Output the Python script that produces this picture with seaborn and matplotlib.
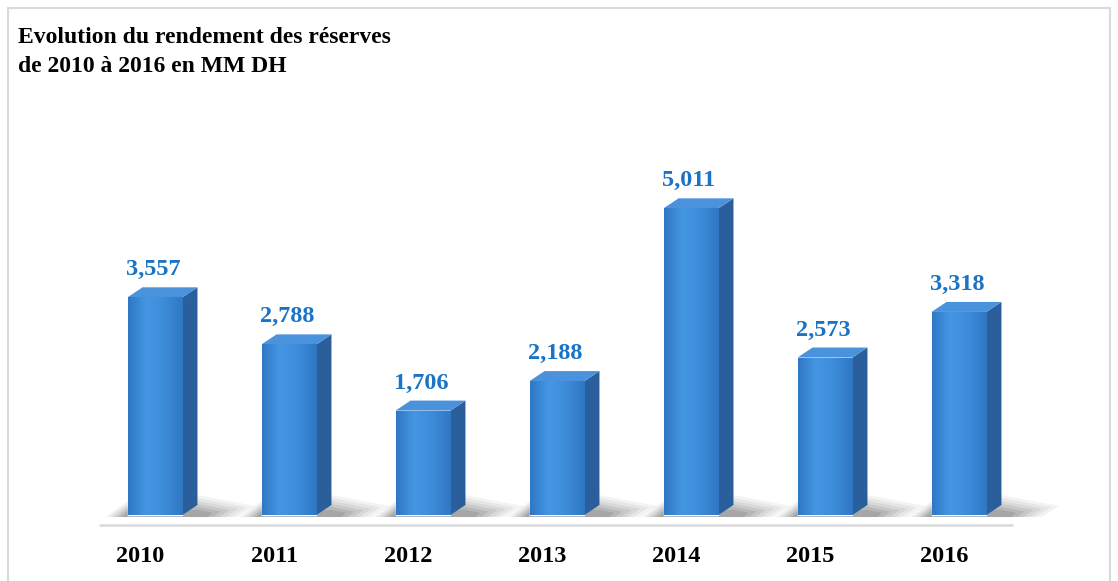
import numpy as np
import pandas as pd
import matplotlib
matplotlib.use("Agg")
import matplotlib.pyplot as plt
import seaborn as sns
from matplotlib.patches import Polygon, Rectangle
from matplotlib.colors import LinearSegmentedColormap

# ---- data ----
years = ["2010", "2011", "2012", "2013", "2014", "2015", "2016"]
values = [3557, 2788, 1706, 2188, 5011, 2573, 3318]
value_labels = ["3,557", "2,788", "1,706", "2,188", "5,011", "2,573", "3,318"]
title = "Evolution du rendement des réserves\nde 2010 à 2016 en MM DH"

sns.set_theme(style="white")
plt.rcParams['font.family'] = ['Liberation Serif', 'DejaVu Serif']

W, H = 1118, 581
fig = plt.figure(figsize=(W / 100, H / 100), dpi=100)
ax = fig.add_axes([0, 0, 1, 1])

df = pd.DataFrame({"year": years, "value": values})
sns.barplot(data=df, x="year", y="value", color="#3b88d6", width=0.41,
            saturation=1, ax=ax, zorder=3)

# pixel <-> data scale
PX_X = 134.0          # px per category
PX_Y = 0.0612         # px per value unit
X0_PX, Y0_PX = 155, 515
ax.set_xlim(-X0_PX / PX_X, (W - X0_PX) / PX_X)
ax.set_ylim(-(H - Y0_PX) / PX_Y, Y0_PX / PX_Y)
ax.axis("off")

dx = 15 / PX_X
dy = 10 / PX_Y
px = 1 / PX_X
py = 1 / PX_Y

grad = LinearSegmentedColormap.from_list("g", ["#2f78c6", "#4597e3", "#3d8cd9", "#2f77c3"])

for p, lab in zip(list(ax.patches), value_labels):
    x0 = p.get_x()
    w = p.get_width()
    x1 = x0 + w
    h = p.get_height()
    # floor shadow
    for k, a in zip(range(6), [0.06, 0.07, 0.08, 0.10, 0.12, 0.14]):
        s = 1 - k * 0.15
        shadow = Polygon([(x0 - 22 * px * s, -2 * py),
                          (x0, 14 * py * s),
                          (x1 + dx, 20 * py * s),
                          (x1 + dx + 58 * px * s, 9 * py * s),
                          (x1 + dx + 40 * px * s, -2 * py)],
                         closed=True, facecolor="#404040", edgecolor="none",
                         alpha=a, zorder=1)
        ax.add_patch(shadow)
    # front gradient
    img = ax.imshow(np.linspace(0, 1, 64).reshape(1, -1), cmap=grad,
                    extent=(x0, x1, 0, h), aspect="auto", zorder=3.5)
    img.set_clip_path(p)
    # side face
    side = Polygon([(x1, 0), (x1 + dx, dy), (x1 + dx, h + dy), (x1, h)],
                   closed=True, facecolor="#2a5f9c", edgecolor="none", zorder=3)
    ax.add_patch(side)
    # top face
    top = Polygon([(x0, h), (x1, h), (x1 + dx, h + dy), (x0 + dx, h + dy)],
                  closed=True, facecolor="#4a92dc", edgecolor="none", zorder=3)
    ax.add_patch(top)
    # value label
    ax.text(x0 + w / 2 - 2 * px, h + dy + 7 * py, lab, ha="center", va="bottom",
            fontsize=17.5, fontweight="bold", color="#1a73c5", zorder=5)

ax.set_xlim(-X0_PX / PX_X, (W - X0_PX) / PX_X)
ax.set_ylim(-(H - Y0_PX) / PX_Y, Y0_PX / PX_Y)

# baseline
ax.plot([(100 - X0_PX) / PX_X, (1012 - X0_PX) / PX_X],
        [-(525 - Y0_PX) / PX_Y] * 2, color="#d9d9d9", lw=1.8, zorder=2)

# category labels
for i, yr in enumerate(years):
    ax.text(i - 15 * px, -(562 - Y0_PX) / PX_Y, yr, ha="center", va="baseline",
            fontsize=17.5, fontweight="bold", color="black")

# border
fig.patches.append(Rectangle((8 / W, -0.05), (1110 - 8) / W, 1.05 - 8 / H,
                             transform=fig.transFigure, fill=False,
                             edgecolor="#d9d9d9", lw=1.5))

fig.text(18 / W, 1 - 27 / H, title, ha="left", va="top", fontsize=17,
         fontweight="bold", color="black", linespacing=1.5)

fig.savefig("out.png", dpi=100, facecolor="white")
